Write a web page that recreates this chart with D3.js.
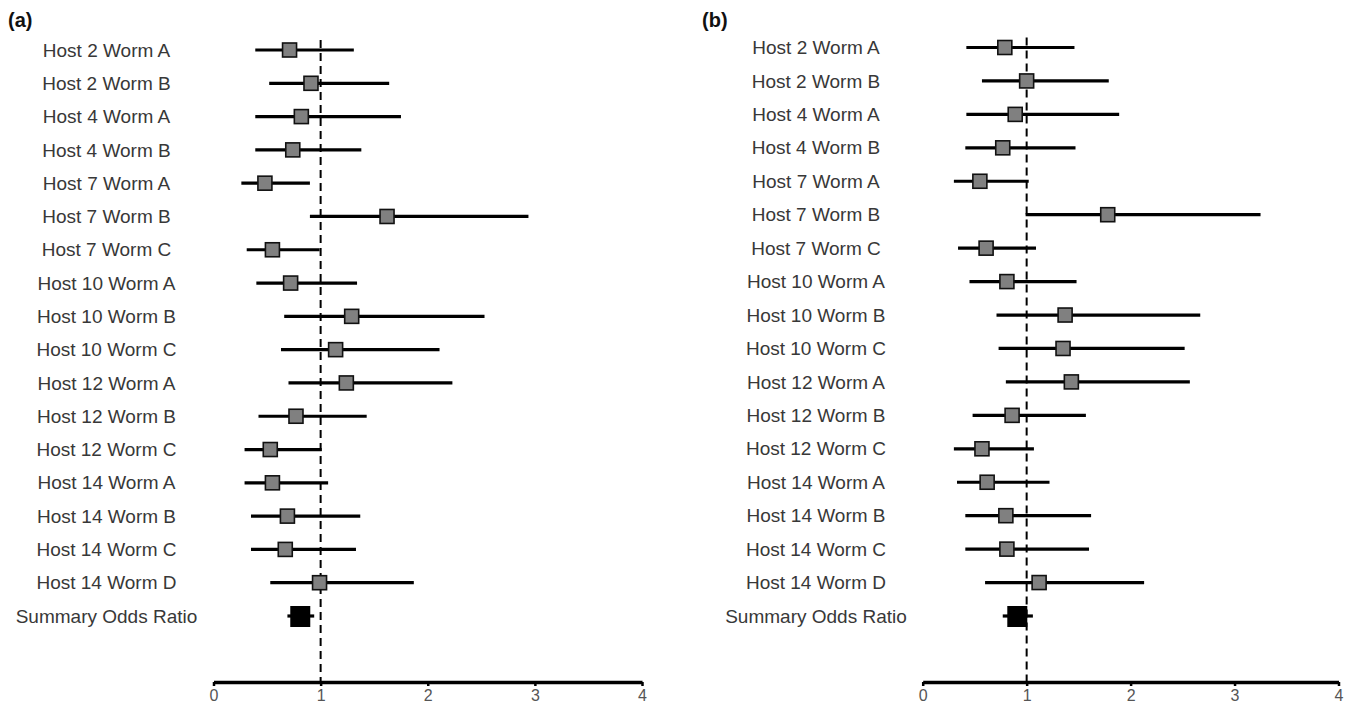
<!DOCTYPE html>
<html>
<head>
<meta charset="utf-8">
<script src="https://cdn.jsdelivr.net/npm/d3@7"></script>
<style>
  body { margin: 0; background: #fff; }
  svg { font-family: "Liberation Sans", Arial, sans-serif; }
  .row-label { font-size: 19px; fill: #383838; text-anchor: middle; }
  .panel-label { font-size: 20px; font-weight: bold; fill: #111; }
  .ci { stroke: #000; stroke-width: 3.2; }
  .est { fill: #808080; stroke: #111; stroke-width: 1.6; }
  .axis path, .axis line { stroke: #000; }
  .axis path { stroke-width: 3.5; }
  .axis line { stroke-width: 2.5; }
  .axis text { font-size: 16px; fill: #555; font-family: "Liberation Sans", Arial, sans-serif; }
  .ref { stroke: #000; stroke-width: 2; stroke-dasharray: 8,5; }
</style>
</head>
<body>
<script>
var labels = ["Host 2 Worm A","Host 2 Worm B","Host 4 Worm A","Host 4 Worm B","Host 7 Worm A",
  "Host 7 Worm B","Host 7 Worm C","Host 10 Worm A","Host 10 Worm B","Host 10 Worm C",
  "Host 12 Worm A","Host 12 Worm B","Host 12 Worm C","Host 14 Worm A","Host 14 Worm B",
  "Host 14 Worm C","Host 14 Worm D","Summary Odds Ratio"];
var ticks = [0, 1, 2, 3, 4];

// panel (a)
var orA   = [0.71,0.91,0.82,0.74,0.48,1.62,0.55,0.72,1.29,1.14,1.24,0.77,0.53,0.55,0.69,0.67,0.99,0.81];
var lowA  = [0.39,0.52,0.39,0.39,0.26,0.90,0.31,0.40,0.66,0.63,0.70,0.42,0.29,0.29,0.35,0.35,0.53,0.69];
var highA = [1.31,1.64,1.75,1.38,0.90,2.94,0.99,1.34,2.53,2.11,2.23,1.43,1.01,1.07,1.37,1.33,1.87,0.94];

// panel (b)
var orB   = [0.79,1.00,0.89,0.77,0.55,1.78,0.61,0.81,1.37,1.35,1.43,0.86,0.57,0.62,0.80,0.81,1.12,0.91];
var lowB  = [0.42,0.57,0.42,0.41,0.30,0.99,0.34,0.45,0.71,0.73,0.80,0.48,0.30,0.33,0.41,0.41,0.60,0.77];
var highB = [1.46,1.79,1.89,1.47,1.02,3.25,1.09,1.48,2.67,2.52,2.57,1.57,1.07,1.22,1.62,1.60,2.13,1.06];

var svg = d3.select("body").append("svg")
  .attr("width", 1350)
  .attr("height", 710);

function panel(name, or, low, high, o) {
  var x = d3.scaleLinear().domain([0, 4]).range([o.x0, o.x1]);
  var y = d3.scalePoint().domain(labels).range([o.y0, o.y1]);
  var g = svg.append("g");

  g.append("text")
    .attr("class", "panel-label")
    .attr("x", o.px)
    .attr("y", 27)
    .text(name);

  g.selectAll(".row-label")
    .data(labels)
    .enter()
    .append("text")
    .attr("class", "row-label")
    .attr("x", o.lx)
    .attr("y", function(d){ return y(d); })
    .attr("dy", "0.35em")
    .text(function(d){ return d; });

  g.append("line")
    .attr("class", "ref")
    .attr("x1", x(1)).attr("x2", x(1))
    .attr("y1", o.y0 - 10).attr("y2", o.axisY);

  var axis = d3.axisBottom(x).tickValues(ticks).tickFormat(d3.format("d"))
    .tickSizeInner(4).tickSizeOuter(0).tickPadding(4);
  g.append("g")
    .attr("class", "axis")
    .attr("transform", "translate(0," + o.axisY + ")")
    .call(axis);

  var n = labels.length;
  for (var i = 0; i < n; i++) {
    var cy = y(labels[i]);
    g.append("line")
      .attr("class", "ci")
      .attr("x1", x(low[i])).attr("x2", x(high[i]))
      .attr("y1", cy).attr("y2", cy);
    if (i < n - 1) {
      g.append("rect")
        .attr("class", "est")
        .attr("x", x(or[i]) - 7).attr("y", cy - 7)
        .attr("width", 14).attr("height", 14);
    } else {
      g.append("rect")
        .attr("x", x(or[i]) - 10).attr("y", cy - 10)
        .attr("width", 20).attr("height", 21)
        .attr("fill", "#000");
    }
  }
}

panel("(a)", orA, lowA, highA, {x0: 213.5, x1: 642, y0: 50, y1: 616, lx: 106.5, px: 8, axisY: 682});
panel("(b)", orB, lowB, highB, {x0: 922.7, x1: 1338.5, y0: 47.5, y1: 616, lx: 816, px: 702, axisY: 682});
</script>
</body>
</html>
